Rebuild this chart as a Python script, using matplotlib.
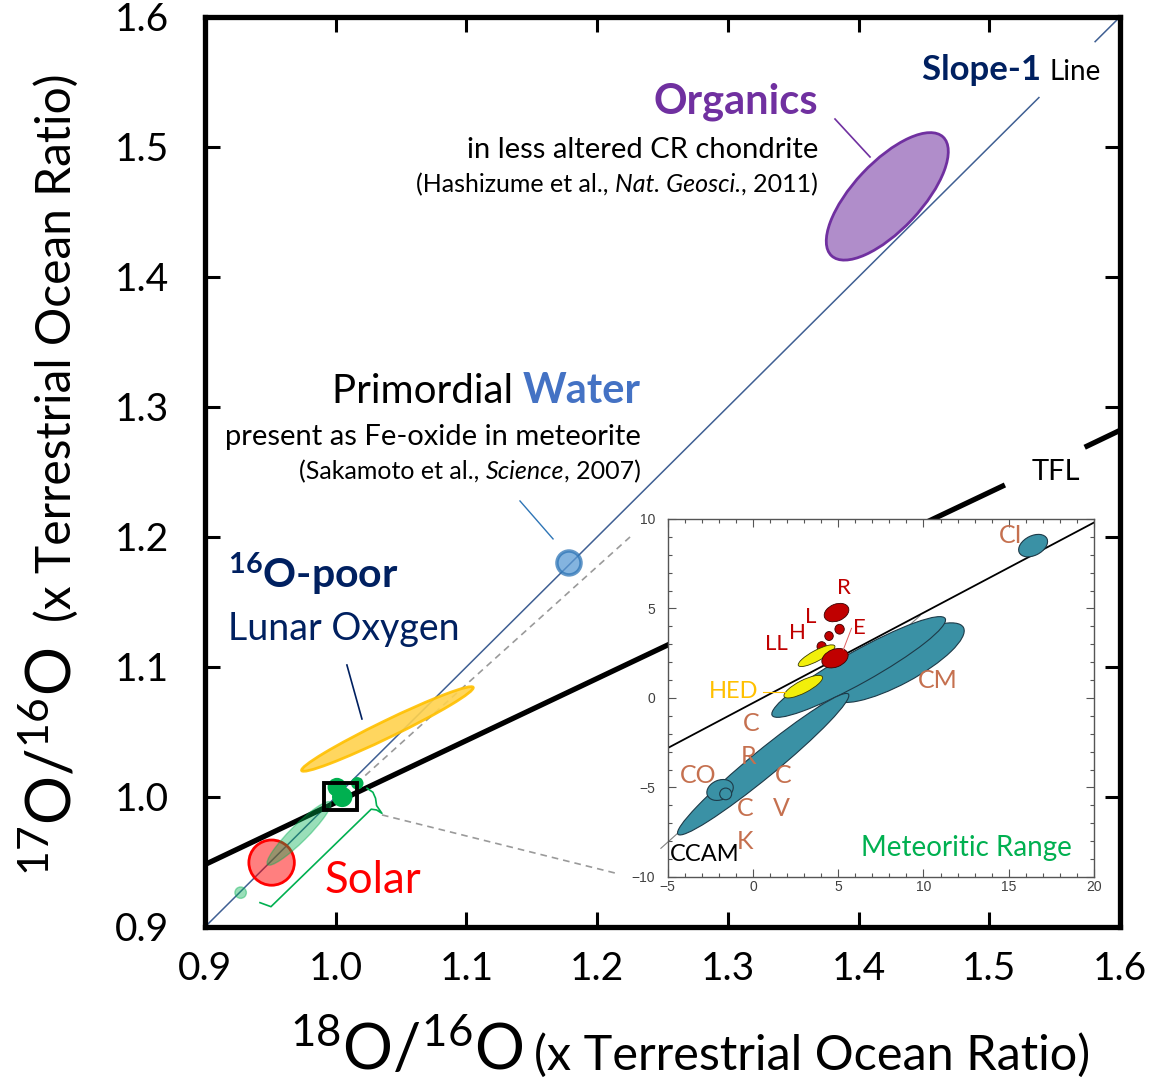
import numpy as np
import matplotlib
matplotlib.use("Agg")
import matplotlib.pyplot as plt
from matplotlib.patches import Ellipse, Circle, Rectangle
from matplotlib.ticker import MultipleLocator
from matplotlib.transforms import ScaledTranslation

plt.rcParams['font.family'] = ['Lato', 'DejaVu Sans']
plt.rcParams['mathtext.fontset'] = 'custom'
plt.rcParams['mathtext.rm'] = 'Lato'
plt.rcParams['mathtext.it'] = 'Lato:italic'
plt.rcParams['mathtext.bf'] = 'Lato:bold'

NAVY = '#002060'
PURPLE = '#7030a0'
BLUE = '#4472c4'
GREEN = '#00b050'
GOLD = '#ffc000'
TEAL = '#3a91a5'
BROWN = '#c5704f'
DARKRED = '#c00000'

# ---- main panel (x Terrestrial Ocean Ratio) ----
slope1_x = [0.9, 1.538, np.nan, 1.581, 1.6]
slope1_y = [0.9, 1.538, np.nan, 1.581, 1.6]
tfl_x = [0.9, 1.512, np.nan, 1.573, 1.6]
tfl_y = [0.948, 1.240, np.nan, 1.269, 1.282]

# organics, lunar oxygen, meteoritic range (center x, center y, width, height, angle)
organics = [1.422, 1.462, 0.125, 0.052, 47]
lunar = [1.0396, 1.0523, 0.146, 0.013, 26]
meteoritic = [0.972, 0.972, 0.068, 0.013, 45]

water_xy = [1.1785, 1.180]
water_r = 0.0092
solar_xy = [0.951, 0.9495]
solar_r = 0.0174
small_green_xy = [0.9273, 0.9264]
small_green_r = 0.0044
blob_x = [1.0010, 1.0050, 1.0165]
blob_y = [1.0075, 1.0000, 1.0105]
blob_r = [0.0072, 0.0078, 0.0048]

zoom_box = [0.991, 0.990, 0.025, 0.0205]
bracket_x = [1.0240, 1.0285, 1.0305, 1.0313, 1.0354, 1.0313, 1.0272, 0.9505, 0.9421]
bracket_y = [1.0067, 1.0036, 0.9990, 0.9934, 0.9874, 0.9900, 0.9906, 0.9156, 0.9187]

# ---- inset: delta-18O vs delta-17O (permil) ----
in_tfl_x = [-5, 20]
in_tfl_y = [-2.8, 9.8]
ccam_x = [-5.4, 9.8]
ccam_y = [-8.4, 4.6]

teal_x = [16.43, 8.52, 6.20, 0.60, -1.93, -1.60]
teal_y = [8.51, 1.97, 1.73, -3.70, -5.14, -5.36]
teal_w = [1.8, 8.6, 11.5, 12.7, 1.6, 0.70]
teal_h = [1.1, 2.4, 1.8, 1.5, 1.1, 0.65]
teal_a = [25, 27, 28, 38, 20, 0]

red_x = [4.03, 4.90, 4.46, 5.08, 4.81]
red_y = [2.87, 4.77, 3.46, 3.84, 2.22]
red_w = [0.55, 1.50, 0.50, 0.55, 1.60]
red_h = [0.55, 0.95, 0.50, 0.55, 1.00]
red_a = [0, 20, 0, 0, 20]

yellow_x = [2.95, 3.73]
yellow_y = [0.63, 2.36]
yellow_w = [2.5, 2.4]
yellow_h = [0.7, 0.6]
yellow_a = [26, 27]

carb_labels = ['CI', 'CM', 'C', 'R', 'CO', 'C', 'V', 'C', 'K']
carb_x = [15.1, 10.86, -0.08, -0.27, -3.2, 1.78, 1.68, -0.47, -0.47]
carb_y = [9.05, 1.0, -1.4, -3.28, -4.36, -4.36, -6.17, -6.17, -8.03]
oc_labels = ['R', 'L', 'H', 'LL', 'E']
oc_x = [5.33, 3.40, 2.62, 1.39, 6.23]
oc_y = [6.13, 4.54, 3.65, 3.02, 3.89]

fig = plt.figure(figsize=(11.54, 10.8), dpi=100)
renderer = fig.canvas.get_renderer()


def rich_text(ax, x, y, pieces, ha='left'):
    # pieces of differently styled text placed side by side on one baseline
    texts = [ax.text(x, y, s, ha='left', va='baseline', **st) for s, st in pieces]
    widths = [t.get_window_extent(renderer).width for t in texts]
    pos = -sum(widths) if ha == 'right' else 0.0
    for t, w in zip(texts, widths):
        t.set_transform(ax.transData + ScaledTranslation(pos / fig.dpi, 0, fig.dpi_scale_trans))
        pos += w


ax = fig.add_axes([0.1776, 0.1417, 0.7929, 0.8426])
ax.set_xlim(0.9, 1.6)
ax.set_ylim(0.9, 1.6)
ticks = np.round(np.arange(0.9, 1.61, 0.1), 1)
ax.set_xticks(ticks)
ax.set_yticks(ticks)
ax.set_xticklabels([f'{t:.1f}' for t in ticks])
ax.set_yticklabels([f'{t:.1f}' for t in ticks])
ax.tick_params(direction='in', length=11, width=2.2, top=True, right=True, labelsize=28)
ax.tick_params(axis='x', pad=17)
ax.tick_params(axis='y', pad=26)
for s in ax.spines.values():
    s.set_linewidth(3.8)

# lines
ax.plot(slope1_x, slope1_y, color='#3f5f93', lw=1.1, zorder=2)
ax.plot(tfl_x, tfl_y, color='black', lw=3.8, solid_capstyle='butt', zorder=3)

# ellipses
ax.add_patch(Ellipse(organics[:2], organics[2], organics[3], angle=organics[4],
                     facecolor=PURPLE, alpha=0.55, edgecolor='none', zorder=4))
ax.add_patch(Ellipse(organics[:2], organics[2], organics[3], angle=organics[4],
                     facecolor='none', edgecolor=PURPLE, lw=2, zorder=4))
ax.add_patch(Ellipse(lunar[:2], lunar[2], lunar[3], angle=lunar[4],
                     facecolor='#ffd24d', alpha=0.9, edgecolor=GOLD, lw=2, zorder=4))
ax.add_patch(Circle(solar_xy, solar_r, facecolor='#ff0000', alpha=0.5, edgecolor='none', zorder=4))
ax.add_patch(Circle(solar_xy, solar_r, facecolor='none', edgecolor='#ff0000', lw=2, zorder=4))
ax.add_patch(Ellipse(meteoritic[:2], meteoritic[2], meteoritic[3], angle=meteoritic[4],
                     facecolor=GREEN, alpha=0.4, edgecolor=GREEN, lw=1, zorder=5))
ax.add_patch(Circle(small_green_xy, small_green_r, facecolor=GREEN, alpha=0.4,
                    edgecolor=GREEN, lw=1, zorder=5))
ax.add_patch(Circle(water_xy, water_r, facecolor='#5b9bd5', alpha=0.75,
                    edgecolor='#2e75b6', lw=2.5, zorder=5))
for bx, by, br in zip(blob_x, blob_y, blob_r):
    ax.add_patch(Circle((bx, by), br, facecolor=GREEN, edgecolor='none', zorder=5))
ax.add_patch(Rectangle(zoom_box[:2], zoom_box[2], zoom_box[3], facecolor='none',
                       edgecolor='black', lw=2.8, zorder=6))
ax.plot(bracket_x, bracket_y, color=GREEN, lw=1.2, zorder=5)

# zoom connectors and leader lines
ax.plot([1.016, 1.2252], [1.0105, 1.2], color='#9a9a9a', lw=1.2, ls=(0, (4, 3)), zorder=1)
ax.plot([1.0354, 1.2137], [0.9862, 0.9415], color='#9a9a9a', lw=1.2, ls=(0, (4, 3)), zorder=1)
ax.plot([1.382, 1.4088], [1.5215, 1.4923], color=PURPLE, lw=1.2)
ax.plot([1.141, 1.1663], [1.2277, 1.1985], color='#2e75b6', lw=1)
ax.plot([1.0086, 1.0201], [1.1015, 1.0600], color=NAVY, lw=1.2)

# annotations
ax.text(1.369, 1.526, 'Organics', color=PURPLE, fontsize=30, fontweight='bold', ha='right', va='baseline')
ax.text(1.369, 1.4915, 'in less altered CR chondrite', fontsize=21, ha='right', va='baseline')
rich_text(ax, 1.369, 1.4654, [('(Hashizume et al., ', dict(fontsize=18)),
                              ('Nat. Geosci.', dict(fontsize=18, style='italic')),
                              (', 2011)', dict(fontsize=18))], ha='right')
rich_text(ax, 1.4486, 1.5515, [('Slope-1 ', dict(fontsize=25, fontweight='bold', color=NAVY)),
                               ('Line', dict(fontsize=20))])
rich_text(ax, 1.2336, 1.3031, [('Primordial ', dict(fontsize=29)),
                               ('Water', dict(fontsize=30, fontweight='bold', color=BLUE))], ha='right')
ax.text(1.2336, 1.2708, 'present as Fe-oxide in meteorite', fontsize=21, ha='right', va='baseline')
rich_text(ax, 1.2336, 1.2446, [('(Sakamoto et al., ', dict(fontsize=18)),
                               ('Science', dict(fontsize=18, style='italic')),
                               (', 2007)', dict(fontsize=18))], ha='right')
ax.text(0.9176, 1.1608, r'$\mathbf{^{16}}$O-poor', color=NAVY, fontsize=29.5, fontweight='bold',
        ha='left', va='baseline')
ax.text(0.9176, 1.1208, 'Lunar Oxygen', color=NAVY, fontsize=27, ha='left', va='baseline')
ax.text(0.9918, 0.9262, 'Solar', color='#ff0000', fontsize=31.5, ha='left', va='baseline')
ax.text(1.5328, 1.2438, 'TFL', fontsize=21, ha='left', va='baseline')

# axis titles built from two sizes
fig.text(290 / 1154, 1 - 1070 / 1080, r'$^{18}$O/$^{16}$O', fontsize=45, ha='left', va='baseline')
fig.text(1090 / 1154, 1 - 1070 / 1080, '(x Terrestrial Ocean Ratio)', fontsize=35,
         ha='right', va='baseline')
fig.text(72 / 1154, 1 - 876 / 1080, r'$^{17}$O/$^{16}$O', fontsize=44, ha='left', va='baseline',
         rotation=90, rotation_mode='anchor')
fig.text(71 / 1154, 1 - 74 / 1080, '(x Terrestrial Ocean Ratio)', fontsize=34.5, ha='right',
         va='baseline', rotation=90, rotation_mode='anchor')

# ---- inset ----
ins = fig.add_axes([0.5786, 0.188, 0.3694, 0.3315])
ins.set_facecolor('white')
ins.set_xlim(-5, 20)
ins.set_ylim(-10, 10)
ins.set_xticks([-5, 0, 5, 10, 15, 20])
ins.set_yticks([-10, -5, 0, 5, 10])
ins.xaxis.set_minor_locator(MultipleLocator(1))
ins.yaxis.set_minor_locator(MultipleLocator(1))
ins.tick_params(which='both', direction='in', top=True, right=True, color='#555555', width=0.8,
                labelsize=10, labelcolor='#404040')
ins.tick_params(which='major', length=6)
ins.tick_params(which='minor', length=3)
ins.tick_params(axis='x', pad=2)
ins.tick_params(axis='y', pad=9)
for lab in ins.get_xticklabels() + ins.get_yticklabels():
    lab.set_fontfamily('Liberation Sans')
for s in ins.spines.values():
    s.set_linewidth(1)
    s.set_color('#555555')

ins.plot(ccam_x, ccam_y, color='#808080', lw=0.8, clip_on=False, zorder=1)
ins.plot(in_tfl_x, in_tfl_y, color='black', lw=1.3, zorder=2)
for x, y, w, h, a in zip(teal_x, teal_y, teal_w, teal_h, teal_a):
    ins.add_patch(Ellipse((x, y), w, h, angle=a, facecolor=TEAL, edgecolor='#1d3a48', lw=0.8, zorder=3))
ins.add_patch(Ellipse((red_x[0], red_y[0]), red_w[0], red_h[0], angle=red_a[0],
                      facecolor=DARKRED, edgecolor='#3a0000', lw=0.6, zorder=4))
for x, y, w, h, a in zip(yellow_x, yellow_y, yellow_w, yellow_h, yellow_a):
    ins.add_patch(Ellipse((x, y), w, h, angle=a, facecolor='#f2ef0a', edgecolor='#3a3a00', lw=0.6, zorder=5))
for x, y, w, h, a in zip(red_x[1:], red_y[1:], red_w[1:], red_h[1:], red_a[1:]):
    ins.add_patch(Ellipse((x, y), w, h, angle=a, facecolor=DARKRED, edgecolor='#3a0000', lw=0.6, zorder=6))

ins.plot([5.78, 5.30], [3.89, 2.70], color='#e06060', lw=0.7, zorder=6)
ins.plot([0.6, 1.87], [0.35, 0.35], color=GOLD, lw=0.8, zorder=6)

for t, x, y in zip(carb_labels, carb_x, carb_y):
    ins.text(x, y, t, color=BROWN, fontsize=18, ha='center', va='center', zorder=7)
for t, x, y in zip(oc_labels, oc_x, oc_y):
    ins.text(x, y, t, color=DARKRED, fontsize=16, ha='center', va='center', zorder=7)
ins.text(-1.15, 0.35, 'HED', color=GOLD, fontsize=17, ha='center', va='center', zorder=7)
ins.text(-2.81, -8.77, 'CCAM', color='black', fontsize=17, ha='center', va='center', zorder=7)
ins.text(12.5, -8.4, 'Meteoritic Range', color=GREEN, fontsize=20, ha='center', va='center', zorder=7)

fig.savefig('out.png', dpi=100)
